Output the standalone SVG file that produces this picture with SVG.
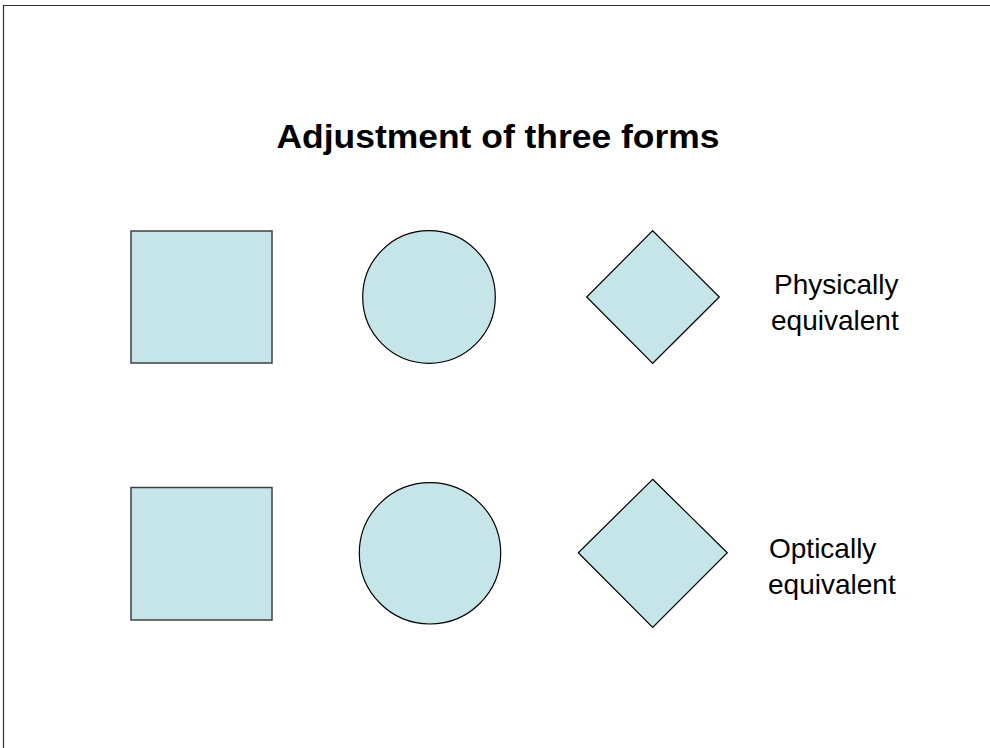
<svg xmlns="http://www.w3.org/2000/svg" width="990" height="748" viewBox="0 0 990 748">
<style>
.shape{fill:#C6E5E8;stroke:#000;stroke-width:1.2}
.sq{fill:#C6E5E8;stroke:#404040;stroke-width:1.5}
.lbl{font-family:"Liberation Sans",Arial,sans-serif;font-size:28px;fill:#000}
.title{font-family:"Liberation Sans",Arial,sans-serif;font-size:34px;font-weight:bold;fill:#000}
</style>
<rect width="990" height="748" fill="#fff"/>
<path d="M3.5,748 V5.5 H990" fill="none" stroke="#303030" stroke-width="1.2"/>
<g id="title"><text class="title" x="498" y="148" text-anchor="middle" textLength="443" lengthAdjust="spacingAndGlyphs">Adjustment of three forms</text></g>
<g id="square1"><rect class="sq" x="131" y="231" width="141" height="132"/></g>
<g id="circle1"><circle class="shape" cx="429" cy="297" r="66.3"/></g>
<g id="diamond1"><polygon class="shape" points="652.7,230.7 719.3,297 652.7,363.3 586.7,297"/></g>
<g id="label1"><text class="lbl" x="774" y="294">Physically</text><text class="lbl" x="771" y="330">equivalent</text></g>
<g id="square2"><rect class="sq" x="131" y="487.5" width="141" height="132.5"/></g>
<g id="circle2"><circle class="shape" cx="430" cy="553.3" r="70.7"/></g>
<g id="diamond2"><polygon class="shape" points="652.7,479.3 727.3,552.7 652.7,627.3 578.3,552.7"/></g>
<g id="label2"><text class="lbl" x="769" y="558">Optically</text><text class="lbl" x="768" y="594">equivalent</text></g>
<g id="connectors"></g>
</svg>
